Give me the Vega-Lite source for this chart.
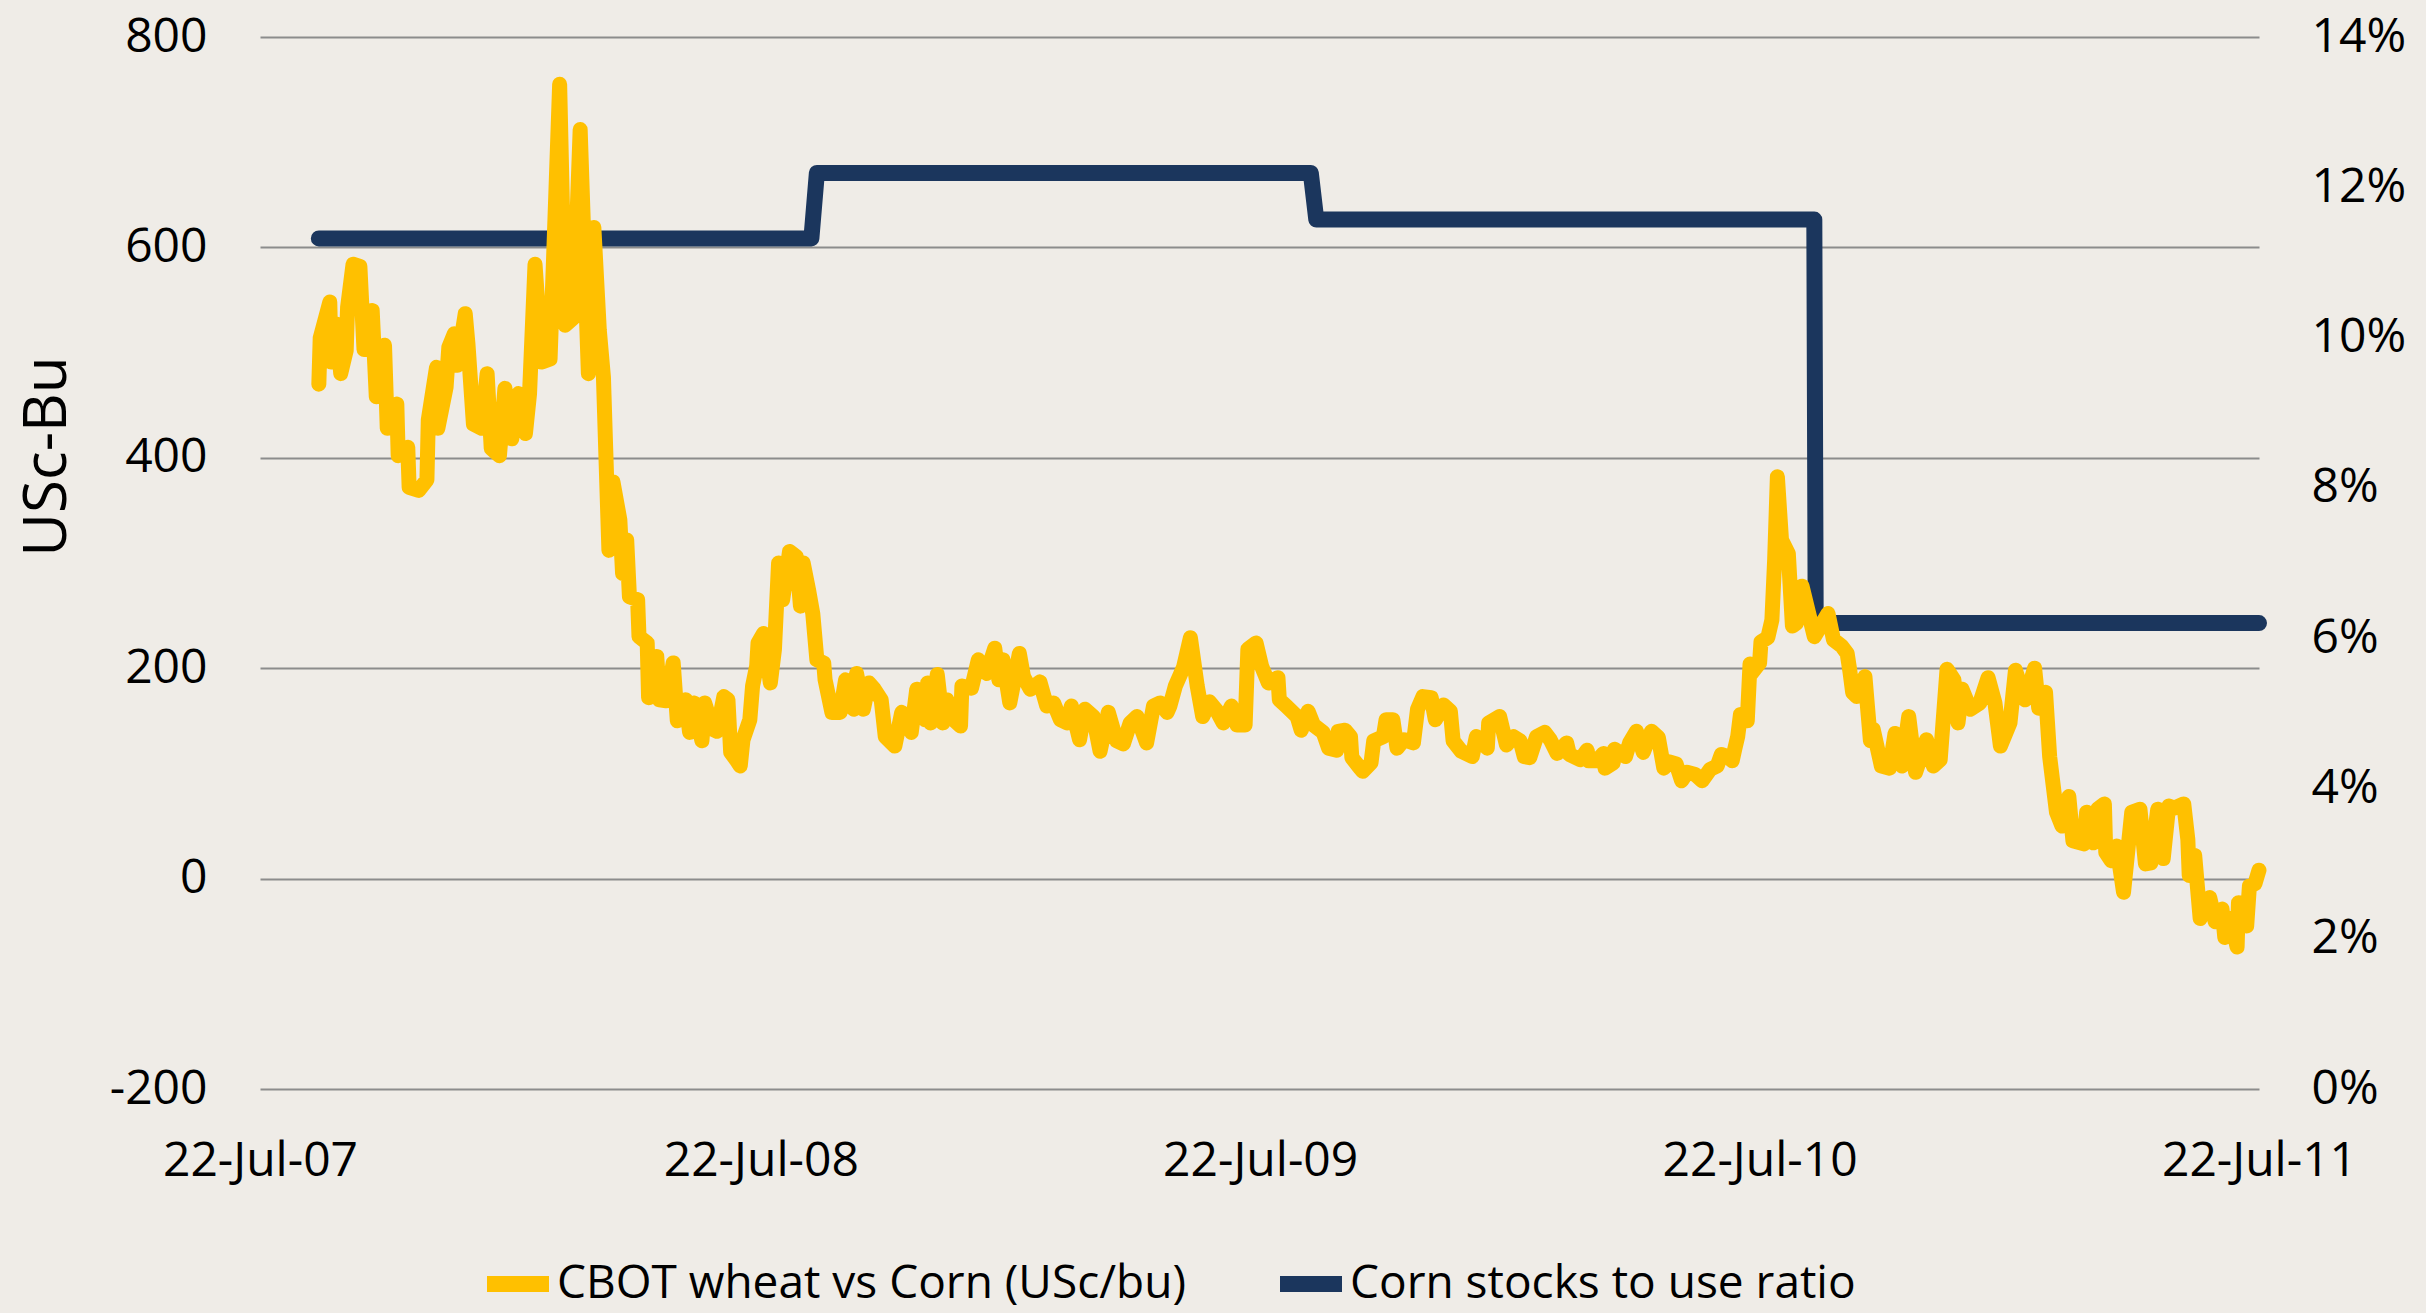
{
  "$schema": "https://vega.github.io/schema/vega-lite/v6.json",
  "width": 1999,
  "height": 1052,
  "autosize": {"type": "none"},
  "padding": {"left": 260, "top": 37, "right": 167, "bottom": 224},
  "background": "#EFECE7",
  "config": {
    "view": {"stroke": null},
    "font": "Open Sans",
    "axis": {"labelFont": "Open Sans", "labelFontSize": 48, "labelColor": "#000000", "domain": false, "ticks": false, "titleFont": "Open Sans", "titleFontWeight": "normal", "titleColor": "#000000", "labelLimit": 500},
    "legend": {"labelFont": "Open Sans", "labelFontSize": 46, "labelColor": "#000000"}
  },
  "datasets": {
    "wheat": [
      {"date":"2007-09-03","value":470},{"date":"2007-09-04","value":514},{"date":"2007-09-11","value":548},{"date":"2007-09-12","value":491},{"date":"2007-09-16","value":527},{"date":"2007-09-19","value":480},{"date":"2007-09-23","value":502},{"date":"2007-09-24","value":543},{"date":"2007-09-28","value":584},{"date":"2007-10-03","value":582},{"date":"2007-10-06","value":503},{"date":"2007-10-12","value":540},{"date":"2007-10-15","value":458},{"date":"2007-10-21","value":507},{"date":"2007-10-23","value":428},{"date":"2007-10-30","value":451},{"date":"2007-10-31","value":402},{"date":"2007-11-07","value":410},{"date":"2007-11-08","value":372},{"date":"2007-11-15","value":369},{"date":"2007-11-21","value":379},{"date":"2007-11-22","value":436},{"date":"2007-11-28","value":486},{"date":"2007-11-29","value":428},{"date":"2007-12-05","value":467},{"date":"2007-12-07","value":505},{"date":"2007-12-11","value":518},{"date":"2007-12-13","value":488},{"date":"2007-12-19","value":537},{"date":"2007-12-21","value":508},{"date":"2007-12-25","value":432},{"date":"2007-12-31","value":428},
      {"date":"2008-01-04","value":480},{"date":"2008-01-07","value":409},{"date":"2008-01-13","value":402},{"date":"2008-01-17","value":466},{"date":"2008-01-22","value":418},{"date":"2008-01-27","value":461},{"date":"2008-02-01","value":423},{"date":"2008-02-04","value":461},{"date":"2008-02-08","value":584},{"date":"2008-02-13","value":491},{"date":"2008-02-19","value":494},{"date":"2008-02-26","value":755},{"date":"2008-03-01","value":526},{"date":"2008-03-07","value":533},{"date":"2008-03-12","value":712},{"date":"2008-03-18","value":480},{"date":"2008-03-22","value":619},{"date":"2008-03-26","value":521},{"date":"2008-03-29","value":477},{"date":"2008-04-02","value":312},{"date":"2008-04-05","value":377},{"date":"2008-04-10","value":341},{"date":"2008-04-12","value":290},{"date":"2008-04-15","value":322},{"date":"2008-04-17","value":268},{"date":"2008-04-23","value":265},{"date":"2008-04-24","value":230},{"date":"2008-04-30","value":224},{"date":"2008-05-01","value":172},{"date":"2008-05-07","value":211},{"date":"2008-05-09","value":170},{"date":"2008-05-14","value":169},{"date":"2008-05-19","value":205},{"date":"2008-05-22","value":150},{"date":"2008-05-28","value":170},{"date":"2008-05-31","value":139},{"date":"2008-06-03","value":167},{"date":"2008-06-09","value":131},{"date":"2008-06-11","value":167},{"date":"2008-06-17","value":142},{"date":"2008-06-20","value":140},{"date":"2008-06-25","value":173},{"date":"2008-06-28","value":170},{"date":"2008-06-30","value":120},{"date":"2008-07-04","value":113},{"date":"2008-07-07","value":107},{"date":"2008-07-09","value":132},{"date":"2008-07-14","value":151},{"date":"2008-07-16","value":183},{"date":"2008-07-19","value":202},{"date":"2008-07-20","value":224},{"date":"2008-07-24","value":233},{"date":"2008-07-29","value":186},{"date":"2008-08-01","value":218},{"date":"2008-08-04","value":300},{"date":"2008-08-07","value":265},{"date":"2008-08-12","value":311},{"date":"2008-08-17","value":306},{"date":"2008-08-20","value":259},{"date":"2008-08-22","value":300},{"date":"2008-08-26","value":274},{"date":"2008-08-29","value":252},{"date":"2008-09-01","value":208},{"date":"2008-09-06","value":205},{"date":"2008-09-07","value":189},{"date":"2008-09-12","value":158},{"date":"2008-09-18","value":158},{"date":"2008-09-22","value":189},{"date":"2008-09-28","value":161},{"date":"2008-09-30","value":195},{"date":"2008-10-05","value":161},{"date":"2008-10-09","value":186},{"date":"2008-10-13","value":180},{"date":"2008-10-18","value":170},{"date":"2008-10-21","value":135},{"date":"2008-10-28","value":126},{"date":"2008-11-02","value":158},{"date":"2008-11-09","value":139},{"date":"2008-11-13","value":180},{"date":"2008-11-19","value":151},{"date":"2008-11-21","value":186},{"date":"2008-11-23","value":148},{"date":"2008-11-28","value":194},{"date":"2008-12-02","value":148},{"date":"2008-12-05","value":170},{"date":"2008-12-10","value":151},{"date":"2008-12-15","value":145},{"date":"2008-12-16","value":183},{"date":"2008-12-23","value":181},{"date":"2008-12-28","value":208},
      {"date":"2009-01-03","value":195},{"date":"2009-01-09","value":219},{"date":"2009-01-12","value":189},{"date":"2009-01-15","value":208},{"date":"2009-01-20","value":167},{"date":"2009-01-27","value":214},{"date":"2009-01-30","value":192},{"date":"2009-02-04","value":180},{"date":"2009-02-11","value":187},{"date":"2009-02-16","value":164},{"date":"2009-02-21","value":167},{"date":"2009-02-26","value":151},{"date":"2009-03-03","value":148},{"date":"2009-03-06","value":164},{"date":"2009-03-12","value":132},{"date":"2009-03-16","value":161},{"date":"2009-03-22","value":154},{"date":"2009-03-27","value":121},{"date":"2009-04-02","value":158},{"date":"2009-04-08","value":131},{"date":"2009-04-13","value":128},{"date":"2009-04-18","value":148},{"date":"2009-04-23","value":154},{"date":"2009-04-30","value":129},{"date":"2009-05-05","value":164},{"date":"2009-05-10","value":167},{"date":"2009-05-15","value":158},{"date":"2009-05-17","value":164},{"date":"2009-05-21","value":183},{"date":"2009-05-27","value":201},{"date":"2009-06-01","value":229},{"date":"2009-06-06","value":183},{"date":"2009-06-10","value":154},{"date":"2009-06-15","value":168},{"date":"2009-06-20","value":160},{"date":"2009-06-25","value":148},{"date":"2009-07-01","value":164},{"date":"2009-07-05","value":146},{"date":"2009-07-11","value":146},{"date":"2009-07-13","value":218},{"date":"2009-07-19","value":224},{"date":"2009-07-23","value":202},{"date":"2009-07-28","value":186},{"date":"2009-08-04","value":191},{"date":"2009-08-05","value":170},{"date":"2009-08-10","value":164},{"date":"2009-08-18","value":154},{"date":"2009-08-21","value":141},{"date":"2009-08-26","value":159},{"date":"2009-08-30","value":146},{"date":"2009-09-06","value":139},{"date":"2009-09-10","value":124},{"date":"2009-09-16","value":122},{"date":"2009-09-17","value":140},{"date":"2009-09-22","value":141},{"date":"2009-09-26","value":135},{"date":"2009-09-27","value":115},{"date":"2009-10-03","value":105},{"date":"2009-10-05","value":102},{"date":"2009-10-11","value":110},{"date":"2009-10-13","value":131},{"date":"2009-10-20","value":135},{"date":"2009-10-22","value":151},{"date":"2009-10-27","value":151},{"date":"2009-10-30","value":124},{"date":"2009-11-04","value":132},{"date":"2009-11-11","value":129},{"date":"2009-11-14","value":161},{"date":"2009-11-18","value":173},{"date":"2009-11-24","value":172},{"date":"2009-11-27","value":151},{"date":"2009-12-03","value":165},{"date":"2009-12-08","value":159},{"date":"2009-12-10","value":131},{"date":"2009-12-16","value":121},{"date":"2009-12-24","value":116},{"date":"2009-12-27","value":135},
      {"date":"2010-01-04","value":124},{"date":"2010-01-05","value":148},{"date":"2010-01-13","value":154},{"date":"2010-01-18","value":127},{"date":"2010-01-23","value":135},{"date":"2010-01-28","value":131},{"date":"2010-01-31","value":116},{"date":"2010-02-04","value":115},{"date":"2010-02-09","value":135},{"date":"2010-02-15","value":139},{"date":"2010-02-19","value":132},{"date":"2010-02-24","value":119},{"date":"2010-03-03","value":129},{"date":"2010-03-05","value":118},{"date":"2010-03-13","value":113},{"date":"2010-03-18","value":122},{"date":"2010-03-19","value":112},{"date":"2010-03-25","value":112},{"date":"2010-03-30","value":119},{"date":"2010-03-31","value":105},{"date":"2010-04-06","value":110},{"date":"2010-04-07","value":123},{"date":"2010-04-15","value":116},{"date":"2010-04-18","value":129},{"date":"2010-04-23","value":140},{"date":"2010-04-28","value":120},{"date":"2010-05-04","value":140},{"date":"2010-05-09","value":134},{"date":"2010-05-13","value":105},{"date":"2010-05-17","value":111},{"date":"2010-05-22","value":109},{"date":"2010-05-26","value":93},{"date":"2010-05-30","value":101},{"date":"2010-06-05","value":99},{"date":"2010-06-10","value":93},{"date":"2010-06-16","value":104},{"date":"2010-06-21","value":107},{"date":"2010-06-24","value":118},{"date":"2010-06-29","value":116},{"date":"2010-07-02","value":112},{"date":"2010-07-04","value":124},{"date":"2010-07-06","value":135},{"date":"2010-07-08","value":156},{"date":"2010-07-13","value":150},{"date":"2010-07-15","value":204},{"date":"2010-07-16","value":195},{"date":"2010-07-22","value":205},{"date":"2010-07-23","value":225},{"date":"2010-07-28","value":229},{"date":"2010-07-31","value":246},{"date":"2010-08-02","value":303},{"date":"2010-08-04","value":382},{"date":"2010-08-07","value":322},{"date":"2010-08-12","value":309},{"date":"2010-08-15","value":240},{"date":"2010-08-18","value":243},{"date":"2010-08-22","value":278},{"date":"2010-08-31","value":230},{"date":"2010-09-10","value":252},{"date":"2010-09-14","value":227},{"date":"2010-09-20","value":221},{"date":"2010-09-24","value":214},{"date":"2010-09-26","value":197},{"date":"2010-09-28","value":177},{"date":"2010-10-01","value":173},{"date":"2010-10-07","value":192},{"date":"2010-10-09","value":161},{"date":"2010-10-11","value":131},{"date":"2010-10-13","value":142},{"date":"2010-10-19","value":107},{"date":"2010-10-25","value":105},{"date":"2010-10-29","value":138},{"date":"2010-11-03","value":107},{"date":"2010-11-08","value":154},{"date":"2010-11-13","value":101},{"date":"2010-11-21","value":132},{"date":"2010-11-26","value":107},{"date":"2010-12-01","value":113},{"date":"2010-12-06","value":199},{"date":"2010-12-11","value":189},{"date":"2010-12-14","value":148},{"date":"2010-12-17","value":180},{"date":"2010-12-23","value":161},{"date":"2010-12-30","value":167},
      {"date":"2011-01-05","value":191},{"date":"2011-01-10","value":167},{"date":"2011-01-14","value":126},{"date":"2011-01-21","value":148},{"date":"2011-01-25","value":198},{"date":"2011-02-01","value":170},{"date":"2011-02-08","value":200},{"date":"2011-02-11","value":162},{"date":"2011-02-16","value":177},{"date":"2011-02-19","value":116},{"date":"2011-02-24","value":63},{"date":"2011-02-28","value":50},{"date":"2011-03-05","value":78},{"date":"2011-03-08","value":36},{"date":"2011-03-16","value":33},{"date":"2011-03-18","value":63},{"date":"2011-03-23","value":34},{"date":"2011-03-26","value":66},{"date":"2011-03-31","value":71},{"date":"2011-04-01","value":25},{"date":"2011-04-05","value":17},{"date":"2011-04-09","value":31},{"date":"2011-04-14","value":-13},{"date":"2011-04-20","value":63},{"date":"2011-04-26","value":66},{"date":"2011-04-30","value":14},{"date":"2011-05-04","value":15},{"date":"2011-05-09","value":66},{"date":"2011-05-13","value":19},{"date":"2011-05-17","value":69},{"date":"2011-05-21","value":67},{"date":"2011-05-28","value":71},{"date":"2011-05-31","value":37},{"date":"2011-06-01","value":3},{"date":"2011-06-05","value":22},{"date":"2011-06-09","value":-38},{"date":"2011-06-16","value":-18},{"date":"2011-06-20","value":-41},{"date":"2011-06-25","value":-29},{"date":"2011-06-27","value":-56},{"date":"2011-07-01","value":-38},{"date":"2011-07-06","value":-65},{"date":"2011-07-07","value":-23},{"date":"2011-07-13","value":-45},{"date":"2011-07-15","value":-7},{"date":"2011-07-19","value":-5},{"date":"2011-07-22","value":8}
    ],
    "corn": [
      {"date":"2007-09-03","ratio":0.1132},
      {"date":"2008-08-28","ratio":0.1132},
      {"date":"2008-09-01","ratio":0.1219},
      {"date":"2009-08-28","ratio":0.1219},
      {"date":"2009-09-01","ratio":0.1157},
      {"date":"2010-08-31","ratio":0.1157},
      {"date":"2010-09-01","ratio":0.062},
      {"date":"2011-07-22","ratio":0.062}
    ]
  },
  "encoding": {
    "x": {
      "field": "date",
      "type": "temporal",
      "scale": {
        "type": "utc",
        "nice": false,
        "domain": [
          {"year": 2007, "month": "Jul", "date": 22, "utc": true},
          {"year": 2011, "month": "Jul", "date": 22, "utc": true}
        ]
      },
      "axis": {
        "title": null,
        "grid": false,
        "format": "%d-%b-%y",
        "labelFlush": false,
        "labelOverlap": false,
        "labelPadding": 48,
        "labelLimit": 500,
        "values": [
          {"year": 2007, "month": "Jul", "date": 22, "utc": true},
          {"year": 2008, "month": "Jul", "date": 22, "utc": true},
          {"year": 2009, "month": "Jul", "date": 22, "utc": true},
          {"year": 2010, "month": "Jul", "date": 22, "utc": true},
          {"year": 2011, "month": "Jul", "date": 22, "utc": true}
        ]
      }
    }
  },
  "layer": [
    {
      "data": {"name": "corn"},
      "mark": {"type": "line", "strokeWidth": 16, "strokeCap": "round", "strokeJoin": "round"},
      "encoding": {
        "y": {
          "field": "ratio",
          "type": "quantitative",
          "scale": {"domain": [0, 0.14], "nice": false, "zero": false},
          "axis": {
            "orient": "right",
            "title": null,
            "grid": false,
            "format": ".0%",
            "values": [0, 0.02, 0.04, 0.06, 0.08, 0.1, 0.12, 0.14],
            "labelPadding": 52,
            "labelAlign": "left"
          }
        },
        "color": {
          "datum": "Corn stocks to use ratio",
          "type": "nominal",
          "scale": {"domain": ["CBOT wheat vs Corn (USc/bu)", "Corn stocks to use ratio"], "range": ["#FFC000", "#1B365D"]},
          "legend": {
            "title": null,
            "orient": "none",
            "legendX": 219,
            "legendY": 1208,
            "direction": "horizontal",
            "symbolType": "stroke",
            "symbolSize": 3844,
            "symbolStrokeWidth": 16,
            "labelOffset": 0,
            "columnPadding": 62,
            "padding": 0,
            "labelLimit": 1200
          }
        }
      }
    },
    {
      "data": {"name": "wheat"},
      "mark": {"type": "line", "strokeWidth": 15, "strokeCap": "round", "strokeJoin": "round"},
      "encoding": {
        "y": {
          "field": "value",
          "type": "quantitative",
          "scale": {"domain": [-200, 800], "nice": false, "zero": false},
          "axis": {
            "orient": "left",
            "title": "USc-Bu",
            "titleFontSize": 60,
            "titleX": -213,
            "titleY": 419,
            "titleAngle": 270,
            "titleAlign": "center",
            "titleBaseline": "middle",
            "grid": true,
            "gridColor": "#8C8C8C",
            "gridWidth": 2,
            "values": [-200, 0, 200, 400, 600, 800],
            "labelExpr": "'' + datum.value",
            "labelPadding": 53
          }
        },
        "color": {"datum": "CBOT wheat vs Corn (USc/bu)", "type": "nominal"}
      }
    }
  ],
  "resolve": {"scale": {"y": "independent"}}
}
